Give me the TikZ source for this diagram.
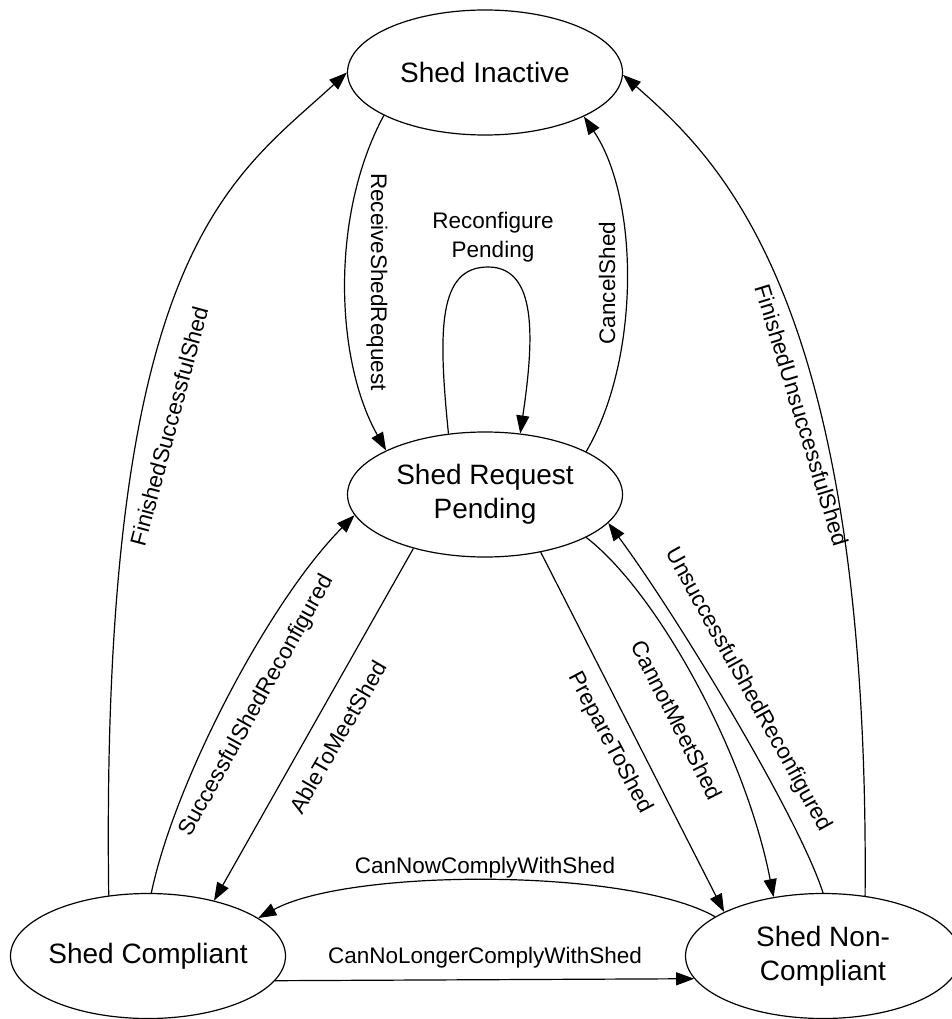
\documentclass[tikz,border=0pt]{standalone}
\usepackage{fontspec}
\setmainfont{Liberation Sans}
\usetikzlibrary{arrows.meta,shapes.geometric}
\begin{document}
\begin{tikzpicture}[x=1pt,y=-1pt,
  state/.style={ellipse,draw,line width=1.2pt,minimum width=275pt,minimum height=125pt,
    inner xsep=-3pt,inner ysep=0pt,align=center,font=\fontsize{28}{34}\selectfont},
  trans/.style={line width=1.2pt,-{Triangle[length=18pt,width=13pt]}},
  lab/.style={font=\fontsize{22.5}{29}\selectfont,inner sep=0pt,align=center}]
\useasboundingbox (0,0) rectangle (951,1019);
% states
\node[state] (SI)  at (485,72.5)  {Shed Inactive};
\node[state] (SRP) at (485,494.5) {Shed Request\\Pending};
\node[state] (SC)  at (148,956)   {Shed Compliant};
\node[state] (SNC) at (823,956)   {Shed Non-\\Compliant};
% transitions
\draw[trans] (SI.203.6) .. controls (330,215) and (335,360) .. (SRP.156);
\coordinate (looptop) at (488,267);
\draw[trans] (SRP.121.4) .. controls (438,330) and (438,267) .. (looptop)
                         .. controls (538,267) and (534,340) .. (SRP.60.2);
\draw[trans] (SRP.23.6) .. controls (640,360) and (640,200) .. (SI.336.4);
\draw[trans] (SC.123.5) .. controls (100,250) and (230,180) .. (SI.180);
\draw[trans] (SNC.55.2) .. controls (870,300) and (720,160) .. (SI.359);
\draw[trans] (SC.87) .. controls (175,780) and (270,600) .. (SRP.189.3);
\draw[trans] (SRP.217.4) -- (SC.40.2);
\draw[trans] (SRP.314.7) -- (SNC.156);
\draw[trans] (SRP.337.4) .. controls (655,590) and (745,750) .. (SNC.130.8);
\draw[trans] (SNC.90) .. controls (800,820) and (680,620) .. (SRP.347.9);
\draw[trans] (SNC.160.6) .. controls (630,868) and (350,868) .. (SC.19.5);
\draw[trans] (SC.349.3) -- (SNC.190.7);
% labels
\node[lab,rotate=-90] (lRSR) at (377,282) {ReceiveShedRequest};
\node[lab] (lRP) at (493,237.5) {Reconfigure\\Pending};
\node[lab,rotate=90] (lCS) at (607,283) {CancelShed};
\node[lab,rotate=75] (lFSS) at (169,426) {FinishedSuccessfulShed};
\node[lab,rotate=-73] (lFUS) at (802,415) {FinishedUnsuccessfulShed};
\node[lab,rotate=61] (lSSR) at (257,706) {SuccessfulShedReconfigured};
\node[lab,rotate=60] (lATMS) at (338,737) {AbleToMeetShed};
\node[lab,rotate=-62] (lPTS) at (610,743) {PrepareToShed};
\node[lab,rotate=-63] (lCMS) at (677,720) {CannotMeetShed};
\node[lab,rotate=-61] (lUSR) at (748,690) {UnsuccessfulShedReconfigured};
\node[lab,anchor=base] (lCNC) at (485,873) {CanNowComplyWithShed};
\node[lab,anchor=base] (lCNL) at (485,963) {CanNoLongerComplyWithShed};
\end{tikzpicture}
\end{document}
